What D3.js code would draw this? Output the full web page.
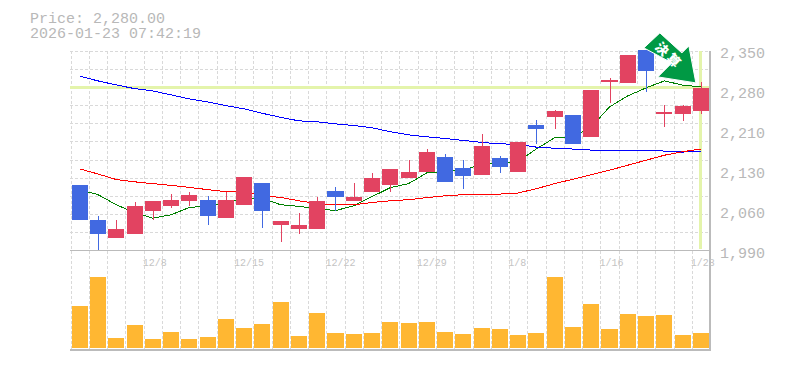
<!DOCTYPE html>
<html lang="en">
<head>
    <meta charset="UTF-8">
    <title>Price chart</title>
    <script src="https://d3js.org/d3.v7.min.js"></script>
    <style>
        html, body { margin: 0; background: #fff; }
        svg { display: block; }
        text { font-family: "Liberation Mono", monospace; fill: #b8b8b8; }
    </style>
</head>
<body>
    <div id="chart"></div>
    <script>
        var width = 785,
            height = 370;

        var headerLines = ['Price: 2,280.00', '2026-01-23 07:42:19'];
        var priceTicks = ['2,350', '2,280', '2,210', '2,130', '2,060', '1,990'];
        var dateTicks = [[4, '12/8'], [9, '12/15'], [14, '12/22'], [19, '12/29'], [24, '1/8'], [29, '1/16'], [34, '1/23']];
        var lastPrice = 2280;

        var open = [2107, 2044, 2011, 2018, 2059, 2068, 2077, 2080, 2048, 2071, 2110.5, 2034, 2028, 2028, 2096, 2077, 2093, 2107, 2118, 2130, 2157, 2137, 2125, 2155, 2130, 2214, 2228, 2232, 2192.5, 2291, 2289, 2348, 2234, 2234, 2239];
        var close = [2043, 2019, 2027, 2068, 2077, 2080, 2089, 2050, 2080, 2120, 2060.5, 2041, 2034, 2077, 2085.5, 2085.5, 2118, 2135, 2130, 2166, 2112, 2123, 2176.5, 2139, 2184, 2207, 2239, 2180, 2276, 2294, 2339, 2310, 2237, 2248, 2280];
        var high = [2107, 2051, 2044, 2075, 2077, 2091, 2094, 2087, 2094, 2120, 2110.5, 2041, 2057, 2085.5, 2103, 2110.5, 2128, 2135, 2151.5, 2171, 2162, 2151.5, 2198, 2159, 2184, 2223, 2241, 2232, 2276, 2298, 2339, 2348, 2250, 2250, 2291];
        var low = [2043, 1990, 2011, 2018, 2043, 2066, 2069, 2035.5, 2048, 2071, 2030, 2005, 2019, 2028, 2060.5, 2077, 2093, 2093, 2118, 2130, 2112, 2100, 2125, 2128, 2130, 2180, 2207, 2180, 2192.5, 2253, 2289, 2273, 2210, 2221, 2234];
        var volume = [423, 713, 103, 233, 93, 163, 93, 113, 293, 203, 243, 463, 123, 353, 153, 143, 153, 263, 253, 263, 163, 143, 203, 193, 133, 153, 713, 213, 443, 193, 343, 323, 333, 133, 153];

        var maShort = [2098, 2089, 2071, 2057, 2047, 2053, 2066, 2069, 2075, 2082, 2082, 2071, 2068, 2064, 2060.5, 2069, 2085.5, 2101.5, 2108.7, 2128, 2130, 2133.6, 2142.6, 2146, 2148, 2171, 2190.8, 2192.5, 2210, 2246, 2265.7, 2280, 2292.5, 2285, 2281.8];
        var maMid = [2135, 2126, 2116, 2112, 2108.7, 2105.6, 2102, 2098, 2094.4, 2094.4, 2087, 2084, 2078, 2073, 2071, 2071, 2075, 2078, 2080, 2083.7, 2087, 2089, 2089.6, 2090, 2092, 2099.7, 2108.7, 2116.7, 2124.7, 2132.8, 2141.7, 2150.6, 2159.5, 2165.8, 2170.6];
        var maLong = [2301, 2292.5, 2285.3, 2278.7, 2274.6, 2267.5, 2260.3, 2255, 2248.4, 2242.5, 2234.5, 2227.3, 2221, 2219.3, 2215.7, 2212.7, 2208.6, 2201.5, 2196, 2192.5, 2189.5, 2186, 2182.4, 2180, 2178.8, 2174, 2172, 2170.6, 2168.8, 2168.8, 2168.8, 2168.8, 2167, 2165.2, 2167];

        var red = '#e24361',
            blue = '#4169e1',
            orange = '#ffb732',
            gridColor = '#d9d9d9',
            axisColor = '#bbb',
            markColor = '#e4f4ab';

        var svg = d3.select('#chart')
            .append('svg')
            .attr('width', width)
            .attr('height', height);

        var index = d3.range(open.length);
        var x = d3.scaleBand().domain(index).range([70.6, 710]).paddingInner(0.12).paddingOuter(0.06);
        var y = d3.scaleLinear().domain([1990, 2346]).range([250, 51]);
        var yVol = d3.scaleLinear().domain([0, 713]).range([348, 276.7]);
        var left = (i) => Math.round(70.6 + i * 18.27);
        var cx = (i) => x(i) + x.bandwidth() / 2;

        // grid
        var grid = svg.append('g')
            .attr('stroke', gridColor)
            .attr('stroke-dasharray', '3,2')
            .attr('shape-rendering', 'crispEdges');
        grid.selectAll('.h')
            .data(d3.range(12))
            .enter()
            .append('line')
            .attr('x1', 70)
            .attr('x2', 710)
            .attr('y1', (d) => Math.round(51 + d * 199 / 11) + 0.5)
            .attr('y2', (d) => Math.round(51 + d * 199 / 11) + 0.5);
        grid.selectAll('.v')
            .data(index)
            .enter()
            .append('line')
            .attr('x1', (d) => left(d) + 0.5)
            .attr('x2', (d) => left(d) + 0.5)
            .attr('y1', 51)
            .attr('y2', 350);

        // current price and last day markers
        svg.append('line')
            .attr('x1', 70).attr('x2', 710)
            .attr('y1', y(lastPrice)).attr('y2', y(lastPrice))
            .attr('stroke', markColor).attr('stroke-width', 3)
            .attr('shape-rendering', 'crispEdges');
        svg.append('line')
            .attr('x1', cx(34)).attr('x2', cx(34))
            .attr('y1', 51).attr('y2', 249)
            .attr('stroke', markColor).attr('stroke-width', 3)
            .attr('shape-rendering', 'crispEdges');

        // frame
        var frame = svg.append('g').attr('stroke', axisColor).attr('shape-rendering', 'crispEdges');
        frame.append('line').attr('x1', 70).attr('x2', 710).attr('y1', 250.5).attr('y2', 250.5);
        frame.append('line').attr('x1', 70).attr('x2', 710).attr('y1', 350).attr('y2', 350).attr('stroke-width', 1.5);
        frame.append('line').attr('x1', 710).attr('x2', 710).attr('y1', 51).attr('y2', 351).attr('stroke-width', 1.5);

        // moving averages
        var line = d3.line()
            .x((d, i) => cx(i))
            .y((d) => y(d));
        [[maShort, 'green'], [maLong, 'blue'], [maMid, 'red']].forEach((s) => {
            svg.append('path')
                .attr('d', line(s[0]))
                .attr('fill', 'none')
                .attr('stroke', s[1])
                .attr('stroke-width', 1)
                .attr('shape-rendering', 'crispEdges');
        });

        // candles
        var candle = svg.append('g').attr('shape-rendering', 'crispEdges');
        candle.selectAll('line')
            .data(index)
            .enter()
            .append('line')
            .attr('x1', (d) => Math.round(cx(d)) + 0.5)
            .attr('x2', (d) => Math.round(cx(d)) + 0.5)
            .attr('y1', (d) => y(high[d]))
            .attr('y2', (d) => y(low[d]))
            .attr('stroke', (d) => close[d] >= open[d] ? red : blue)
            .attr('stroke-width', 1);
        candle.selectAll('rect')
            .data(index)
            .enter()
            .append('rect')
            .attr('x', (d) => x(d))
            .attr('width', x.bandwidth())
            .attr('y', (d) => y(Math.max(open[d], close[d])))
            .attr('height', (d) => Math.max(1, Math.abs(y(open[d]) - y(close[d]))))
            .attr('fill', (d) => close[d] >= open[d] ? red : blue);

        // volume
        svg.append('g')
            .attr('shape-rendering', 'crispEdges')
            .selectAll('rect')
            .data(volume)
            .enter()
            .append('rect')
            .attr('x', (d, i) => x(i))
            .attr('width', x.bandwidth())
            .attr('y', (d) => yVol(d))
            .attr('height', (d) => yVol(0) - yVol(d))
            .attr('fill', orange);

        // arrow, placed from the last candle
        var arrow = svg.append('g')
            .attr('transform', 'translate(' + cx(34) + ',' + y(lastPrice) + ')');
        arrow.append('path')
            .attr('d', 'M-41,-55 L-57,-40 L-29,-25 L-43,-11 L-5,-5 L-12,-42 L-19,-35 Z')
            .attr('fill', '#009944')
            .attr('stroke', '#fff')
            .attr('stroke-width', 1);
        arrow.append('text')
            .attr('transform', 'translate(-32,-32) rotate(45)')
            .attr('text-anchor', 'middle')
            .attr('dy', '0.35em')
            .style('font-family', '"Noto Sans CJK JP"')
            .style('font-size', '13px')
            .style('font-weight', 900)
            .style('letter-spacing', '3px')
            .style('fill', '#fff')
            .text('決算');

        // texts
        svg.selectAll('.head')
            .data(headerLines)
            .enter()
            .append('text')
            .attr('x', 30)
            .attr('y', (d, i) => 23 + i * 15)
            .style('font-size', '15px')
            .text((d) => d);
        svg.selectAll('.price')
            .data(priceTicks)
            .enter()
            .append('text')
            .attr('x', 720)
            .attr('y', (d, i) => 57.5 + i * 40)
            .style('font-size', '15px')
            .text((d) => d);
        svg.selectAll('.date')
            .data(dateTicks)
            .enter()
            .append('text')
            .attr('x', (d) => x(d[0]) - 2)
            .attr('y', 266)
            .style('font-size', '10px')
            .style('fill', '#c4c4c4')
            .text((d) => d[1]);
    </script>
</body>
</html>
